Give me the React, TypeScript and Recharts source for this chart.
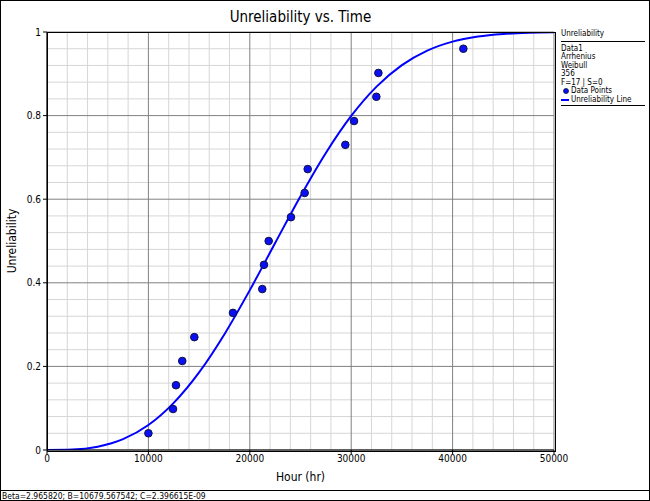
import React from "react";
import {
  ComposedChart,
  Line,
  Scatter,
  XAxis,
  YAxis,
  CartesianGrid,
} from "recharts";

const xTicks = [0, 10000, 20000, 30000, 40000, 50000];
const yTicks = [0, 0.2, 0.4, 0.6, 0.8, 1];
const xMinorTicks = [
  2000, 4000, 6000, 8000, 12000, 14000, 16000, 18000, 22000, 24000, 26000, 28000,
  32000, 34000, 36000, 38000, 42000, 44000, 46000, 48000,
];
const yMinorTicks = [
  0.04, 0.08, 0.12, 0.16, 0.24, 0.28, 0.32, 0.36, 0.44, 0.48, 0.52, 0.56, 0.64,
  0.68, 0.72, 0.76, 0.84, 0.88, 0.92, 0.96,
];

const failureHours = [
  10000, 12430, 12720, 13340, 14530, 18340, 21230, 21400, 21860, 24060, 25410,
  25710, 29420, 30280, 32480, 32680, 41060,
];
const pointUnreliability = [
  0.04, 0.098, 0.155, 0.213, 0.27, 0.328, 0.385, 0.443, 0.5, 0.557, 0.615, 0.672,
  0.73, 0.787, 0.845, 0.902, 0.96,
];

const lineHours = [
  0, 2500, 5000, 7500, 10000, 12500, 15000, 17500, 20000, 22500, 25000, 27500,
  30000, 32500, 35000, 37500, 40000, 42500, 45000, 47500, 50000,
];
const lineUnreliability = [
  0, 0.001, 0.0079, 0.0259, 0.0598, 0.1128, 0.1856, 0.2771, 0.3825, 0.4952,
  0.6071, 0.7105, 0.7991, 0.8693, 0.9207, 0.9554, 0.9769, 0.989, 0.9952, 0.9981,
  0.9993,
];

const legendLines = ["Data1", "Arrhenius", "Weibull", "356", "F=17 | S=0"];
const statusText = "Beta=2.965820; B=10679.567542; C=2.396615E-09";

const scatterData = failureHours.map((h, i) => ({ x: h, y: pointUnreliability[i] }));
const lineData = lineHours.map((h, i) => ({ x: h, y: lineUnreliability[i] }));

const FONT = "'DejaVu Sans Condensed', 'Liberation Sans', sans-serif";
const BLUE = "#0000ff";

const Dot = (props: any) => {
  const { cx, cy } = props;
  if (cx == null || cy == null) return null;
  return <circle cx={cx} cy={cy} r={3.8} fill="#0a10f5" stroke="#101040" strokeWidth={1} />;
};

export default function App() {
  return (
    <div
      style={{
        position: "absolute",
        left: 0,
        top: 0,
        width: 650,
        height: 501,
        boxSizing: "border-box",
        border: "1px solid #000",
        background: "#fff",
        fontFamily: FONT,
        overflow: "hidden",
      }}
    >
      <div style={{ position: "absolute", left: -1, top: -1 }}>
        <ComposedChart
          width={650}
          height={501}
          margin={{ top: 32, right: 96, left: 0, bottom: 0 }}
        >
          <CartesianGrid
            stroke="#d6d6d6"
            strokeWidth={1}
            verticalValues={xMinorTicks}
            horizontalValues={yMinorTicks}
          />
          <CartesianGrid stroke="#808080" strokeWidth={1} />
          <XAxis
            type="number"
            dataKey="x"
            domain={[0, 50000]}
            ticks={xTicks}
            interval={0}
            height={51}
            tickSize={4}
            tickMargin={1}
            axisLine={{ stroke: "#000" }}
            tickLine={{ stroke: "#000" }}
            tick={{ fill: "#000", fontSize: 10, fontFamily: FONT }}
            allowDataOverflow
          />
          <YAxis
            type="number"
            dataKey="y"
            domain={[0, 1]}
            ticks={yTicks}
            interval={0}
            width={47}
            tickSize={4}
            tickMargin={2}
            axisLine={{ stroke: "#000" }}
            tickLine={{ stroke: "#000" }}
            tick={{ fill: "#000", fontSize: 10, fontFamily: FONT }}
            allowDataOverflow
          />
          <Line
            data={lineData}
            dataKey="y"
            type="monotone"
            stroke={BLUE}
            strokeWidth={2}
            dot={false}
            activeDot={false}
            isAnimationActive={false}
          />
          <Scatter
            data={scatterData}
            dataKey="y"
            shape={Dot}
            isAnimationActive={false}
          />
        </ComposedChart>
      </div>
      {/* plot frame */}
      <div
        style={{
          position: "absolute",
          left: 46,
          top: 31,
          width: 507,
          height: 418,
          border: "1px solid #000",
          pointerEvents: "none",
        }}
      />
      {/* title */}
      <div
        style={{
          position: "absolute",
          left: 46,
          width: 507,
          top: 7,
          textAlign: "center",
          fontSize: 15,
          color: "#000",
          lineHeight: "18px",
        }}
      >
        Unreliability vs. Time
      </div>
      {/* x label */}
      <div
        style={{
          position: "absolute",
          left: 46,
          width: 507,
          top: 469,
          textAlign: "center",
          fontSize: 12,
          lineHeight: "14px",
        }}
      >
        Hour (hr)
      </div>
      {/* y label */}
      <div
        style={{
          position: "absolute",
          left: 11,
          top: 240,
          width: 120,
          marginLeft: -60,
          textAlign: "center",
          fontSize: 12,
          lineHeight: "14px",
          transform: "translateY(-7px) rotate(-90deg)",
          transformOrigin: "50% 50%",
        }}
      >
        Unreliability
      </div>
      {/* legend */}
      <div
        style={{
          position: "absolute",
          left: 560,
          top: 29,
          width: 84,
          fontSize: 8,
          lineHeight: "8.5px",
          color: "#000",
        }}
      >
        <div style={{ borderBottom: "1px solid #000", paddingBottom: 2, marginBottom: 3 }}>
          Unreliability
        </div>
        {legendLines.map((t) => (
          <div key={t}>{t}</div>
        ))}
        <div style={{ display: "flex", alignItems: "center", height: 8.5 }}>
          <svg width={10} height={8} style={{ flex: "none" }}>
            <circle cx={5} cy={4} r={2.5} fill="#0a10f5" stroke="#101040" strokeWidth={0.8} />
          </svg>
          <span>Data Points</span>
        </div>
        <div
          style={{
            display: "flex",
            alignItems: "center",
            height: 8.5,
            borderBottom: "1px solid #000",
            paddingBottom: 1,
          }}
        >
          <svg width={10} height={8} style={{ flex: "none" }}>
            <line x1={0} y1={4} x2={8} y2={4} stroke={BLUE} strokeWidth={2} />
          </svg>
          <span>Unreliability Line</span>
        </div>
      </div>
      {/* status bar */}
      <div
        style={{
          position: "absolute",
          left: 0,
          right: 0,
          top: 489,
          bottom: 0,
          borderTop: "1px solid #000",
          fontSize: 8.5,
          lineHeight: "10px",
          paddingLeft: 1,
          whiteSpace: "nowrap",
        }}
      >
        {statusText}
      </div>
    </div>
  );
}
